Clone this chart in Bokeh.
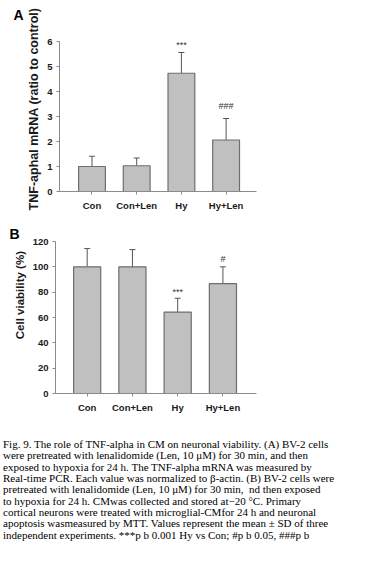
from bokeh.plotting import figure
from bokeh.models import Range1d, FixedTicker, Whisker, TeeHead, ColumnDataSource, Div, Title
from bokeh.core.properties import value
from bokeh.embed import file_html
from bokeh.resources import INLINE

# ---- data ----
groups = ["Con", "Con+Len", "Hy", "Hy+Len"]

tnf_mean = [1.0, 1.03, 4.73, 2.06]
tnf_sd = [0.41, 0.31, 0.83, 0.86]
tnf_marks = ["", "", "***", "###"]

via_mean = [100.0, 100.0, 64.3, 86.7]
via_sd = [14.4, 13.6, 10.9, 13.3]
via_marks = ["", "", "***", "#"]

tnf_ticks = [0, 1, 2, 3, 4, 5, 6]
via_ticks = [0, 20, 40, 60, 80, 100, 120]

tnf_label = "TNF-aphal mRNA (ratio to control)"
via_label = "Cell viability (%)"

caption_lines = [
    "Fig. 9. The role of TNF-alpha in CM on neuronal viability. (A) BV-2 cells",
    "were pretreated with lenalidomide (Len, 10 \u03bcM) for 30 min, and then",
    "exposed to hypoxia for 24 h. The TNF-alpha mRNA was measured by",
    "Real-time PCR. Each value was normalized to \u03b2-actin. (B) BV-2 cells were",
    "pretreated with lenalidomide (Len, 10 \u03bcM) for 30 min,  nd then exposed",
    "to hypoxia for 24 h. CMwas collected and stored at\u221220 \u00b0C. Primary",
    "cortical neurons were treated with microglial-CMfor 24 h and neuronal",
    "apoptosis wasmeasured by MTT. Values represent the mean \u00b1 SD of three",
    "independent experiments. ***p b 0.001 Hy vs Con; #p b 0.05, ###p b",
]

FONT = "Liberation Sans"
AXIS_COL = "#8a8a8a"
BAR_FILL = "#c0c0c0"
BAR_LINE = "#6e6e6e"
ERR_COL = "#555555"
TXT = "#1a1a1a"


def panel(means, sds, marks, mark_dy, ticks, yr, ybounds, ylabel, letter,
          height, bl, br, bt, bb, xr, ylabel_size, label_standoff,
          letter_offset, letter_standoff, letter_valign):
    p = figure(width=374, height=height, output_backend="svg", toolbar_location=None,
               x_range=Range1d(*xr), y_range=Range1d(*yr),
               min_border_left=bl, min_border_right=br,
               min_border_top=bt, min_border_bottom=bb, title=letter)
    p.title.align = "left"
    p.title.offset = letter_offset
    p.title.standoff = letter_standoff
    p.title.vertical_align = letter_valign
    p.title.text_font = FONT
    p.title.text_font_style = "bold"
    p.title.text_font_size = "14px"
    p.title.text_color = "#000000"
    p.outline_line_color = None
    p.grid.visible = False
    xs = list(range(len(groups)))
    tops = [m + s for m, s in zip(means, sds)]
    src = ColumnDataSource(dict(x=xs, m=means, top=tops, mark=marks, dy=mark_dy))
    p.vbar(x="x", top="m", bottom=0, width=0.6, source=src,
           fill_color=BAR_FILL, line_color=BAR_LINE, line_width=1.2)
    p.add_layout(Whisker(base="x", lower="m", upper="top", source=src,
                         line_color=ERR_COL, line_width=1,
                         upper_head=TeeHead(size=6, line_color=ERR_COL, line_width=1),
                         lower_head=None))
    p.text(x="x", y="top", text="mark", y_offset="dy", source=src,
           text_align="center", text_baseline="alphabetic",
           text_font=value(FONT), text_font_size="9px", text_color="#333333")

    p.yaxis.ticker = FixedTicker(ticks=ticks)
    p.yaxis.bounds = ybounds
    if ylabel is not None:
        p.yaxis.axis_label = ylabel
        p.yaxis.axis_label_text_font = FONT
        p.yaxis.axis_label_text_font_style = "bold"
        p.yaxis.axis_label_text_font_size = ylabel_size
        p.yaxis.axis_label_text_color = TXT
        p.yaxis.axis_label_standoff = label_standoff

    p.xaxis.ticker = FixedTicker(ticks=xs)
    p.xaxis.major_label_overrides = {i: g for i, g in enumerate(groups)}
    for ax in (p.xaxis, p.yaxis):
        ax.axis_line_color = AXIS_COL
        ax.major_tick_line_color = AXIS_COL
        ax.minor_tick_line_color = None
        ax.major_tick_in = 0
        ax.major_tick_out = 3
        ax.major_label_text_font = FONT
        ax.major_label_text_font_style = "bold"
        ax.major_label_text_font_size = "9.5px"
        ax.major_label_text_color = TXT
        ax.major_label_standoff = 4
    p.xaxis.major_label_standoff = 5
    return p


# Panel A (its long y label is a title on the left; a tiny blank title
# further out pushes it in toward the axis)
pA = panel(tnf_mean, tnf_sd, tnf_marks, [0, 0, -8, -13], tnf_ticks,
           (0, 6.6), (0, 6), None, "A",
           height=218, bl=56, br=118, bt=25, bb=27, xr=(-0.727, 3.68),
           ylabel_size=None, label_standoff=0,
           letter_offset=-46, letter_standoff=8, letter_valign="bottom")
pA.add_layout(Title(text=tnf_label, align="center", vertical_align="middle",
                    standoff=5, text_font=FONT, text_font_style="bold",
                    text_font_size="12.5px", text_color=TXT), "left")
pA.add_layout(Title(text="\u00a0", align="center", vertical_align="middle",
                    standoff=20, text_font=FONT, text_font_size="1px",
                    text_color="#ffffff"), "left")

# Panel B (label padded at its start so that it sits higher, as in the original)
pB = panel(via_mean, via_sd, via_marks, [0, 0, -6, -8], via_ticks,
           (0, 120), (0, 120), "\u00a0" * 14 + via_label, "B",
           height=212, bl=55, br=118, bt=23, bb=37, xr=(-0.70, 3.742),
           ylabel_size="11.5px", label_standoff=4,
           letter_offset=-46, letter_standoff=0, letter_valign="bottom")

# Caption
cap_html = (
    '<div style="font-family: \'Liberation Serif\', serif; font-size: 11px; '
    'line-height: 11.34px; color: #000; white-space: pre; margin: 0; '
    'padding: 9px 0 0 3px;">' + "<br>".join(caption_lines) + "</div>"
)
cap = Div(text=cap_html, width=374, height=139, margin=(0, 0, 0, 0))

open("out.html", "w").write(file_html([pA, pB, cap], INLINE))
